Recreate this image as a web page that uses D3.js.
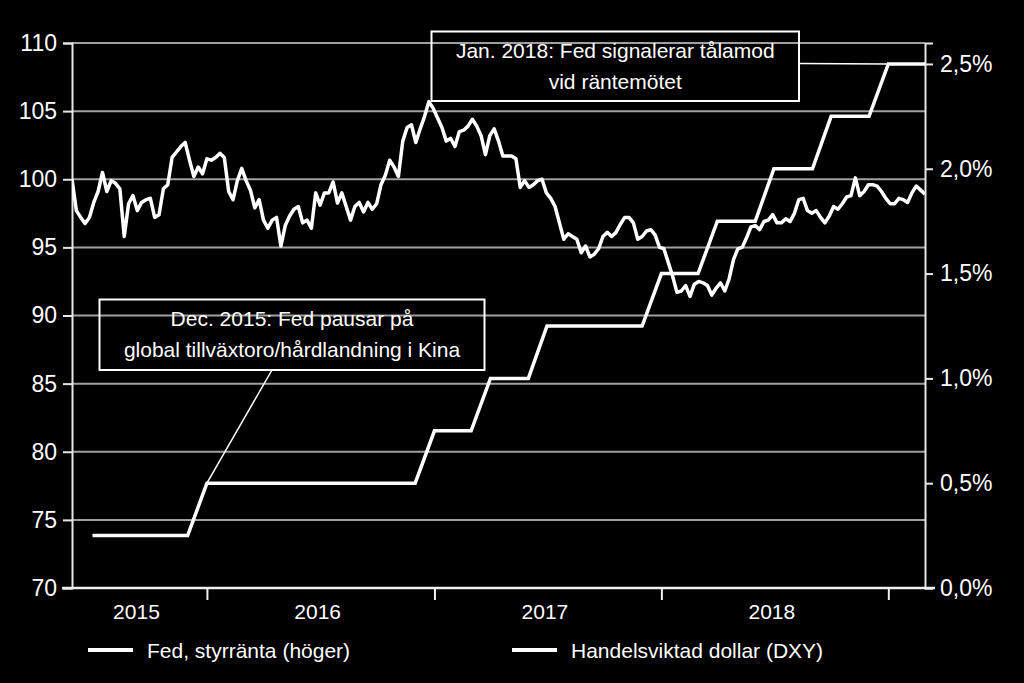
<!DOCTYPE html>
<html><head><meta charset="utf-8">
<script src="https://cdn.jsdelivr.net/npm/d3@7"></script>
<style>
html,body{margin:0;padding:0;background:#000;}
svg{display:block;}
text{font-family:"Liberation Sans", Arial, Helvetica, sans-serif; fill:#fff;}
</style></head><body>
<svg id="chart" width="1024" height="683"></svg>
<script>
// ---------- data ----------
const fedMonths = ["2015-07","2015-08","2015-09","2015-10","2015-11","2015-12",
  "2016-01","2016-02","2016-03","2016-04","2016-05","2016-06","2016-07","2016-08","2016-09","2016-10","2016-11","2016-12",
  "2017-01","2017-02","2017-03","2017-04","2017-05","2017-06","2017-07","2017-08","2017-09","2017-10","2017-11","2017-12",
  "2018-01","2018-02","2018-03","2018-04","2018-05","2018-06","2018-07","2018-08","2018-09","2018-10","2018-11","2018-12",
  "2019-01","2019-02","2019-03"];
const fedRate = [0.25,0.25,0.25,0.25,0.25,0.25,
  0.5,0.5,0.5,0.5,0.5,0.5,0.5,0.5,0.5,0.5,0.5,0.5,
  0.75,0.75,0.75,1.0,1.0,1.0,1.25,1.25,1.25,1.25,1.25,1.25,
  1.5,1.5,1.5,1.75,1.75,1.75,2.0,2.0,2.0,2.25,2.25,2.25,
  2.5,2.5,2.5];

// Trade-weighted dollar (DXY), weekly, first week ending 2015-05-29
const dxyFirstWeek = "2015-05-29";
const dxyValues = [
  100.0, 97.7, 97.2, 96.75, 97.2, 98.3, 99.1, 100.5, 99.1, 99.9,
  99.7, 99.3, 95.8, 98.2, 98.8, 97.7, 98.3, 98.5, 98.6, 97.2,
  97.4, 99.3, 99.6, 101.6, 102.0, 102.4, 102.7, 101.4, 100.2, 100.9,
  100.4, 101.5, 101.4, 101.6, 101.9, 101.6, 99.1, 98.5, 99.9, 100.8,
  99.9, 99.2, 97.9, 98.5, 97.0, 96.4, 97.0, 97.2, 95.1, 96.6,
  97.3, 97.8, 98.0, 96.8, 97.0, 96.4, 99.0, 98.1, 99.0, 99.0,
  99.8, 98.25, 99.0, 98.0, 97.0, 98.0, 98.3, 97.6, 98.3, 97.8,
  98.2, 99.6, 100.3, 101.4, 100.9, 100.2, 102.8, 103.8, 104.0, 102.7,
  103.7, 104.6, 105.7, 105.2, 104.5, 103.8, 102.8, 103.0, 102.4, 103.5,
  103.6, 103.9, 104.4, 103.9, 103.2, 101.8, 103.2, 103.7, 102.8, 101.7,
  101.7, 101.7, 101.5, 99.4, 99.9, 99.4, 99.6, 99.9, 100.0, 99.0,
  98.6, 98.0, 96.8, 95.6, 96.0, 95.8, 95.6, 94.6, 95.1, 94.3,
  94.5, 94.9, 95.8, 96.1, 95.8, 96.1, 96.7, 97.2, 97.2, 96.8,
  95.6, 95.8, 96.2, 96.3, 95.9, 95.0, 94.9, 93.9, 92.9, 91.7,
  91.8, 92.2, 91.4, 92.3, 92.5, 92.4, 92.2, 91.5, 92.0, 92.4,
  91.8, 92.7, 94.1, 94.9, 95.0, 95.7, 96.5, 96.6, 96.3, 96.9,
  97.0, 97.4, 96.8, 96.8, 97.1, 96.9, 97.5, 98.5, 98.6, 97.7,
  97.5, 97.7, 97.2, 96.8, 97.3, 98.0, 97.8, 98.2, 98.7, 98.8,
  100.1, 98.8, 99.1, 99.6, 99.6, 99.5, 99.1, 98.6, 98.2, 98.2,
  98.6, 98.5, 98.3, 99.0, 99.5, 99.2, 98.9
];

const leftTicks = [70, 75, 80, 85, 90, 95, 100, 105, 110];
const rightTicks = [0, 0.5, 1.0, 1.5, 2.0, 2.5];
const yearBreaks = ["2016-01-01", "2017-01-01", "2018-01-01", "2019-01-01"];
const yearLabels = ["2015", "2016", "2017", "2018"];
const xDomain = ["2015-05-29", "2019-03-01"];
const legendLabels = ["Fed, styrränta (höger)", "Handelsviktad dollar (DXY)"];
const noteDec2015 = ["Dec. 2015: Fed pausar på", "global tillväxtoro/hårdlandning i Kina"];
const noteJan2018 = ["Jan. 2018: Fed signalerar tålamod", "vid räntemötet"];

// ---------- setup ----------
const parseDay = d3.timeParse("%Y-%m-%d");
const parseMonth = d3.timeParse("%Y-%m");
const svg = d3.select("#chart");
svg.append("rect").attr("width", 1024).attr("height", 683).attr("fill", "#000");

const L = 72, R = 925, T = 43, B = 588;
const x = d3.scaleTime().domain(xDomain.map(parseDay)).range([L, R]);
const yL = d3.scaleLinear().domain([70, 110]).range([B, T]);
const yR = d3.scaleLinear().domain([0, 2.6]).range([B, T]);

const fedData = fedMonths.map((m, i) => ({ date: parseMonth(m), v: fedRate[i] }));
const startWeek = parseDay(dxyFirstWeek);
const dxyData = dxyValues.map((v, i) => ({ date: d3.timeDay.offset(startWeek, 7 * i), v }));

// gridlines
svg.append("g").selectAll("line").data(leftTicks.filter(t => t > 70)).join("line")
  .attr("x1", L).attr("x2", R)
  .attr("y1", d => yL(d)).attr("y2", d => yL(d))
  .attr("stroke", "#a0a0a0").attr("stroke-width", 2);

// left axis
const gL = svg.append("g").attr("transform", `translate(${L},0)`)
  .call(d3.axisLeft(yL).tickValues(leftTicks).tickSize(9).tickPadding(6).tickFormat(d3.format("d")));
gL.select(".domain").attr("stroke", "#e6e6e6").attr("stroke-width", 2);
gL.selectAll(".tick line").attr("stroke", "#e6e6e6").attr("stroke-width", 2);
gL.selectAll(".tick text").attr("font-size", 23).attr("fill", "#fff")
  .attr("font-family", '"Liberation Sans", Arial, sans-serif');

// right axis
const sv = d3.formatLocale({ decimal: ",", thousands: " ", grouping: [3], currency: ["", " kr"] });
const fmtR = sv.format(".1f");
const gR = svg.append("g").attr("transform", `translate(${R},0)`)
  .call(d3.axisRight(yR).tickValues(rightTicks).tickSize(8).tickPadding(7).tickFormat(d => fmtR(d) + "%"));
gR.select(".domain").attr("stroke", "#e6e6e6").attr("stroke-width", 2);
gR.selectAll(".tick line").attr("stroke", "#e6e6e6").attr("stroke-width", 2);
gR.selectAll(".tick text").attr("font-size", 23).attr("fill", "#fff")
  .attr("font-family", '"Liberation Sans", Arial, sans-serif');

// bottom axis
const gB = svg.append("g").attr("transform", `translate(0,${B})`)
  .call(d3.axisBottom(x).tickValues(yearBreaks.map(parseDay)).tickSize(12).tickFormat(""));
gB.select(".domain").attr("stroke", "#f0f0f0").attr("stroke-width", 2.5).attr("d", `M${L - 10},0H${R + 10}`);
gB.selectAll(".tick line").attr("stroke", "#f0f0f0").attr("stroke-width", 2);

// year labels centered in each year interval
const bounds = [x.domain()[0], ...yearBreaks.map(parseDay)];
svg.append("g").selectAll("text").data(yearLabels).join("text")
  .attr("x", (d, i) => (x(bounds[i]) + x(bounds[i + 1])) / 2 - 3)
  .attr("y", 619)
  .attr("text-anchor", "middle")
  .attr("font-size", 21)
  .text(d => d);

// lines
const clip = svg.append("clipPath").attr("id", "plotclip").append("rect")
  .attr("x", L).attr("y", T - 10).attr("width", R - L).attr("height", B - T + 20);

svg.append("path").datum(fedData)
  .attr("clip-path", "url(#plotclip)")
  .attr("fill", "none").attr("stroke", "#fff").attr("stroke-width", 3.5)
  .attr("stroke-linejoin", "miter")
  .attr("d", d3.line().x(d => x(d.date)).y(d => yR(d.v)));

svg.append("path").datum(dxyData)
  .attr("clip-path", "url(#plotclip)")
  .attr("fill", "none").attr("stroke", "#fff").attr("stroke-width", 3.5)
  .attr("stroke-linejoin", "round")
  .attr("d", d3.line().x(d => x(d.date)).y(d => yL(d.v)));

// annotations
function note(lines, box, target, from) {
  const g = svg.append("g");
  g.append("line")
    .attr("x1", from[0]).attr("y1", from[1])
    .attr("x2", target[0]).attr("y2", target[1])
    .attr("stroke", "#fff").attr("stroke-width", 1.5);
  g.append("rect")
    .attr("x", box.x).attr("y", box.y).attr("width", box.w).attr("height", box.h)
    .attr("fill", "none").attr("stroke", "#fff").attr("stroke-width", 2);
  g.selectAll("text").data(lines).join("text")
    .attr("x", box.x + box.w / 2)
    .attr("y", (d, i) => box.y + 26 + i * 31)
    .attr("text-anchor", "middle").attr("font-size", 21)
    .text(d => d);
}
const boxDec = { x: 99.5, y: 299.5, w: 385, h: 70.5 };
note(noteDec2015, boxDec,
  [x(parseDay("2016-01-01")), yR(0.5)],
  [272, boxDec.y + boxDec.h]);

const boxJan = { x: 431.5, y: 31.5, w: 367.5, h: 69.5 };
note(noteJan2018, boxJan,
  [x(parseDay("2019-01-01")), yR(2.5)],
  [boxJan.x + boxJan.w, 63.5]);

// legend
const legX = [88, 512];
const lg = svg.append("g").selectAll("g").data(legendLabels).join("g")
  .attr("transform", (d, i) => `translate(${legX[i]},650)`);
lg.append("line").attr("x1", 0).attr("x2", 45).attr("y1", 0).attr("y2", 0)
  .attr("stroke", "#fff").attr("stroke-width", 4);
lg.append("text").attr("x", 59).attr("y", 7.5).attr("font-size", 21).text(d => d);
</script>
</body></html>
